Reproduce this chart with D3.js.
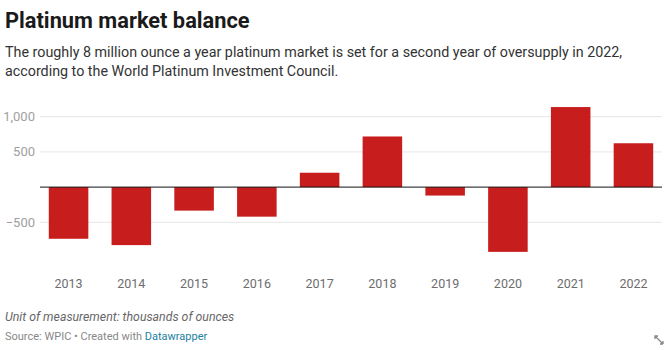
<!DOCTYPE html>
<html>
<head>
<meta charset="utf-8">
<script src="https://cdn.jsdelivr.net/npm/d3@7"></script>
<style>
    body { margin: 0; background: #fff; font-family: Roboto, sans-serif; }
    svg text { font-family: Roboto, sans-serif; }
</style>
</head>
<body>
<svg id="drawing_region"></svg>
<script>
// thousands of ounces
const years = ['2013', '2014', '2015', '2016', '2017', '2018', '2019', '2020', '2021', '2022'];
const balance = [-734, -824, -334, -420, 204, 719, -120, -920, 1137, 623];
const yticks = [-500, 500, 1000];

const config = {
    parent: '#drawing_region',
    width: 672,
    height: 350,
    margin: { top: 100, right: 10, bottom: 90, left: 40 }
};

const svg = d3.select(config.parent)
    .attr('width', config.width)
    .attr('height', config.height);

svg.append('text')
    .attr('x', 5).attr('y', 28)
    .style('font-size', '21.8px')
    .style('font-weight', 'bold')
    .style('fill', '#1a1a1a')
    .text('Platinum market balance');

const sub = svg.append('text')
    .style('font-size', '14.3px')
    .style('fill', '#333');
sub.append('tspan').attr('x', 5).attr('y', 57)
    .text('The roughly 8 million ounce a year platinum market is set for a second year of oversupply in 2022,');
sub.append('tspan').attr('x', 5).attr('y', 76)
    .text('according to the World Platinum Investment Council.');

const xscale = d3.scaleBand()
    .domain(years)
    .range([40, 662])
    .paddingInner(0.37)
    .paddingOuter(0.14);

const yscale = d3.scaleLinear()
    .domain([-500, 1000])
    .range([222.3, 116.7]);

const chart = svg.append('g');

// gridlines
chart.selectAll('.grid')
    .data(yticks)
    .enter()
    .append('line')
    .attr('x1', 40).attr('x2', 662)
    .attr('y1', d => yscale(d)).attr('y2', d => yscale(d))
    .attr('stroke', '#e6e6e6')
    .attr('stroke-width', 1);

chart.selectAll('.ylabel')
    .data(yticks)
    .enter()
    .append('text')
    .attr('x', 35)
    .attr('y', d => yscale(d) + 4.5)
    .attr('text-anchor', 'end')
    .style('font-size', '13px')
    .style('fill', '#a0a0a0')
    .text(d => d3.format(',')(d).replace('-', '\u2212'));

chart.selectAll('rect')
    .data(balance)
    .enter()
    .append('rect')
    .attr('x', (d, i) => xscale(years[i]))
    .attr('width', xscale.bandwidth())
    .attr('y', d => yscale(Math.max(0, d)))
    .attr('height', d => Math.abs(yscale(d) - yscale(0)))
    .attr('fill', '#c71e1d');

// zero line
chart.append('line')
    .attr('x1', 40).attr('x2', 662)
    .attr('y1', yscale(0)).attr('y2', yscale(0))
    .attr('stroke', '#111')
    .attr('stroke-width', 1);

const xaxis = d3.axisBottom(xscale).tickSize(0).tickPadding(0);
const xaxis_group = chart.append('g')
    .attr('transform', 'translate(0, 279)')
    .call(xaxis);
xaxis_group.select('.domain').remove();
xaxis_group.selectAll('text')
    .attr('dy', '0.71em')
    .style('font-size', '12.5px')
    .style('fill', '#6d6d6d');

svg.append('text')
    .attr('x', 5).attr('y', 321)
    .style('font-size', '12.3px')
    .style('font-style', 'italic')
    .style('fill', '#666')
    .text('Unit of measurement: thousands of ounces');

const src = svg.append('text')
    .attr('x', 5).attr('y', 340)
    .style('font-size', '11px')
    .style('fill', '#888');
src.append('tspan').text('Source: WPIC \u2022 Created with ');
src.append('tspan').style('fill', '#1d81a2').text('Datawrapper');

// small expand icon in the corner
svg.append('path')
    .attr('d', 'M655,336 l3,0 l-3,-0 l0,3 M655,336 l8,8 M663,344 l-3,0 M663,344 l0,-3')
    .attr('stroke', '#888')
    .attr('stroke-width', 1.3)
    .attr('fill', 'none');
</script>
</body>
</html>
